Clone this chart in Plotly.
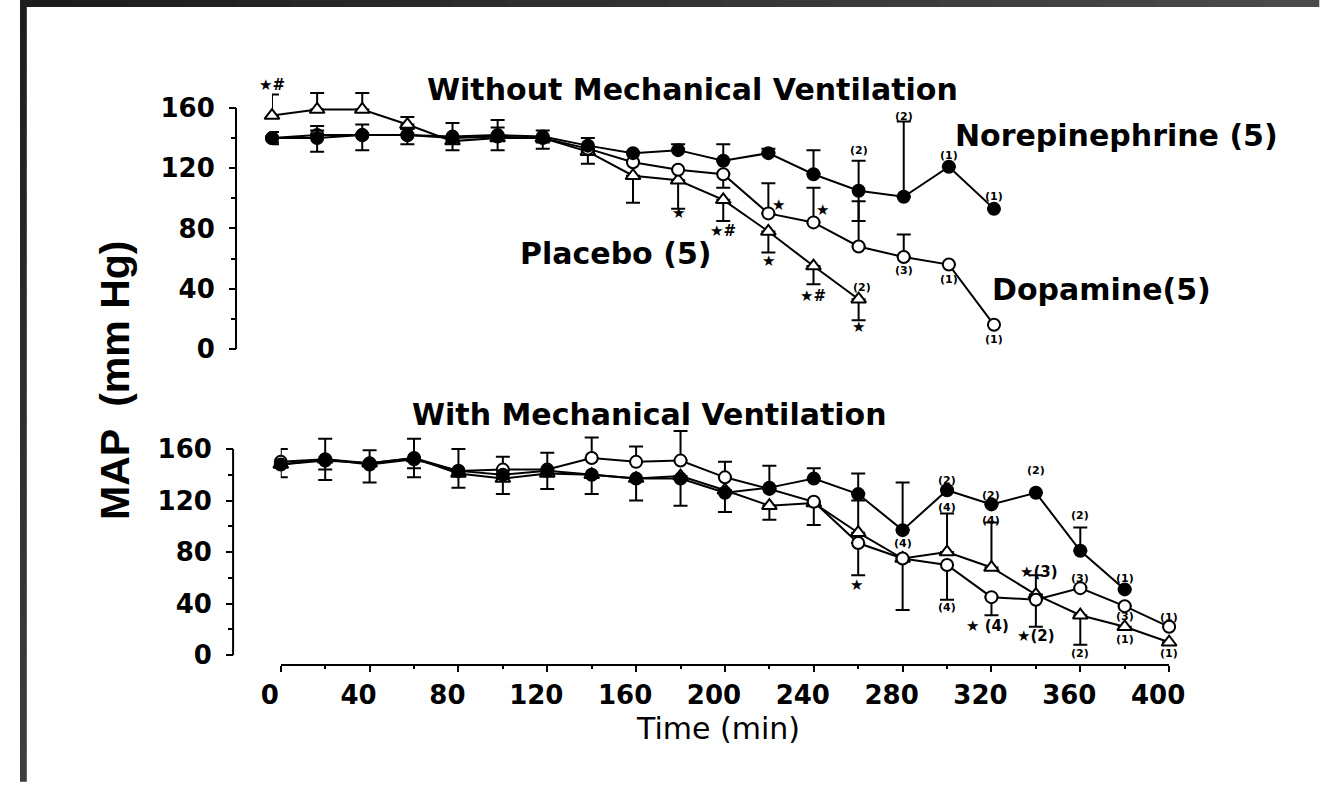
import plotly.graph_objects as go

# ---------------- data ----------------
t_top = [0, 20, 40, 60, 80, 100, 120, 140, 160, 180, 200, 220, 240, 260, 280, 300, 320]
ne_top = [140, 140, 142, 142, 141, 142, 141, 135, 130, 132, 125, 130, 116, 105, 101, 121, 93]
ne_top_plus = [4, 5, 7, 4, 9, 5, 4, 5, 0, 4, 11, 3, 16, 20, 50, 0, 0]
ne_top_minus = [4, 9, 10, 6, 4, 4, 4, 0, 0, 0, 0, 0, 0, 20, 0, 0, 0]

da_top = [140, 142, 142, 142, 140, 141, 140, 133, 124, 119, 116, 90, 84, 68, 61, 56, 16]
da_top_plus = [0, 6, 0, 4, 0, 11, 0, 0, 0, 0, 0, 20, 23, 30, 15, 0, 0]
da_top_minus = [3, 0, 0, 0, 0, 0, 0, 0, 0, 0, 9, 0, 0, 0, 0, 0, 0]

t_top_pl = [0, 20, 40, 60, 80, 100, 120, 140, 160, 180, 200, 220, 240, 260]
pl_top = [155, 159, 159, 149, 138, 140, 140, 131, 115, 112, 99, 78, 55, 33]
pl_top_plus = [14, 11, 11, 5, 0, 0, 0, 0, 0, 0, 0, 0, 0, 0]
pl_top_minus = [0, 0, 0, 0, 6, 8, 7, 8, 18, 19, 14, 14, 12, 14]

t_bot = [0, 20, 40, 60, 80, 100, 120, 140, 160, 180, 200, 220, 240, 260, 280, 300, 320, 340, 360, 380, 400]
t_bot_ne = t_bot[:-1]
ne_bot = [148, 151, 149, 153, 143, 140, 143, 140, 137, 137, 126, 130, 137, 125, 97, 128, 117, 126, 81, 51]
ne_bot_plus = [0, 0, 0, 0, 0, 0, 0, 0, 0, 0, 0, 17, 8, 16, 37, 0, 0, 0, 18, 0]
ne_bot_minus = [10, 15, 15, 15, 13, 0, 0, 0, 0, 0, 15, 0, 0, 0, 0, 0, 0, 0, 0, 0]

da_bot = [150, 152, 148, 152, 143, 144, 144, 153, 150, 151, 138, 129, 119, 87, 75, 70, 45, 43, 52, 38, 22]
da_bot_plus = [10, 16, 11, 16, 17, 10, 13, 16, 12, 23, 12, 0, 0, 0, 0, 0, 0, 0, 0, 0, 0]
da_bot_minus = [0, 0, 0, 0, 0, 0, 0, 0, 0, 0, 0, 0, 0, 25, 40, 27, 14, 21, 0, 0, 0]

pl_bot = [148, 152, 149, 153, 141, 137, 141, 140, 137, 139, 128, 116, 118, 95, 75, 80, 68, 47, 31, 22, 10]
pl_bot_plus = [0, 0, 0, 0, 0, 0, 0, 0, 0, 0, 0, 0, 0, 25, 0, 30, 35, 15, 0, 0, 0]
pl_bot_minus = [0, 8, 0, 8, 0, 12, 12, 15, 17, 23, 0, 11, 17, 0, 0, 0, 0, 0, 23, 0, 0]

y_ticks = [0, 40, 80, 120, 160]
y_minor = [20, 60, 100, 140]
x_ticks = [0, 40, 80, 120, 160, 200, 240, 280, 320, 360, 400]
x_minor = [20, 60, 100, 140, 180, 220, 260, 300, 340, 380]

group_names = {"ne": "Norepinephrine (5)", "da": "Dopamine(5)", "pl": "Placebo (5)"}
panel_titles = ["Without Mechanical Ventilation", "With Mechanical Ventilation"]
y_title = "MAP  (mm Hg)"
x_title = "Time (min)"

# annotations: (panel, series, time, text, xshift, yshift)
notes = [
    ("top", "pl", 0, "★#", 0, 31),
    ("top", "pl", 180, "★", 0, -33),
    ("top", "pl", 200, "★#", 0, -31),
    ("top", "da", 220, "★", 10, 8),
    ("top", "pl", 220, "★", 0, -30),
    ("top", "da", 240, "★", 9, 12),
    ("top", "pl", 240, "★#", 0, -30),
    ("top", "pl", 260, "(2)", 3, 12),
    ("top", "pl", 260, "★", 0, -28),
    ("top", "ne", 260, "(2)", 0, 40),
    ("top", "ne", 280, "(2)", 0, 80),
    ("top", "da", 280, "(3)", 0, -13),
    ("top", "ne", 300, "(1)", 0, 11),
    ("top", "da", 300, "(1)", 0, -15),
    ("top", "ne", 320, "(1)", 0, 12),
    ("top", "da", 320, "(1)", 0, -15),
    ("bot", "da", 260, "★", -2, -42),
    ("bot", "ne", 280, "(4)", 0, -13),
    ("bot", "ne", 300, "(2)", 0, 10),
    ("bot", "pl", 300, "(4)", 0, 45),
    ("bot", "da", 300, "(4)", 0, -43),
    ("bot", "ne", 320, "(2)", 0, 9),
    ("bot", "pl", 320, "(4)", 0, 47),
    ("bot", "da", 320, "★ (4)", -4, -29),
    ("bot", "ne", 340, "(2)", 0, 22),
    ("bot", "pl", 340, "★(3)", 3, 23),
    ("bot", "da", 340, "★(2)", 0, -36),
    ("bot", "ne", 360, "(2)", 0, 35),
    ("bot", "da", 360, "(3)", 0, 10),
    ("bot", "pl", 360, "(2)", 0, -38),
    ("bot", "ne", 380, "(1)", 0, 11),
    ("bot", "da", 380, "(3)", 0, -10),
    ("bot", "pl", 380, "(1)", 0, -13),
    ("bot", "da", 400, "(1)", 0, 9),
    ("bot", "pl", 400, "(1)", 0, -11),
]

# ---------------- layout geometry (pixels) ----------------
W, H = 1334, 788


def px(x):
    return x / W


def py(y):
    return 1 - y / H


BOLD = "DejaVu Sans"

fig = go.Figure()


def add_series(x, y, plus, minus, symbol, fill, xa, ya, size):
    fig.add_trace(go.Scatter(
        x=x, y=y, mode="lines+markers", xaxis=xa, yaxis=ya,
        line=dict(color="black", width=2),
        marker=dict(symbol=symbol, size=size, color=fill,
                    line=dict(color="black", width=2)),
        error_y=dict(type="data", symmetric=False, array=plus, arrayminus=minus,
                     color="black", thickness=2, width=7),
        cliponaxis=False, showlegend=False, hoverinfo="x+y"))


# top panel
add_series(t_top_pl, pl_top, pl_top_plus, pl_top_minus, "triangle-up", "white", "x2", "y2", 13)
add_series(t_top, da_top, da_top_plus, da_top_minus, "circle", "white", "x2", "y2", 12)
add_series(t_top, ne_top, ne_top_plus, ne_top_minus, "circle", "black", "x2", "y2", 12)
# bottom panel
add_series(t_bot, pl_bot, pl_bot_plus, pl_bot_minus, "triangle-up", "white", "x", "y", 13)
add_series(t_bot, da_bot, da_bot_plus, da_bot_minus, "circle", "white", "x", "y", 12)
add_series(t_bot_ne, ne_bot, ne_bot_plus, ne_bot_minus, "circle", "black", "x", "y", 12)

tickfont = dict(family=BOLD, size=26, color="black", weight="bold")

# bottom y: 0 at 661 px, 1.3 px per unit; x axis line at 670
ybot_scale = 1.3
ybot_zero = 661
ybot_dom = (670, 400)
# top y: 0 at 352 px, 1.519 px per unit
ytop_scale = 1.519
ytop_zero = 352
ytop_dom = (360, 60)

common_y = dict(showline=False, showgrid=False, zeroline=False, ticks="outside",
                ticklen=7, tickwidth=2, tickcolor="black", tickmode="array",
                tickvals=y_ticks, tickfont=tickfont, ticklabelstandoff=9,
                minor=dict(tickmode="array", tickvals=y_minor, ticks="outside",
                           ticklen=5, tickwidth=1.5, tickcolor="black"))

fig.update_layout(
    width=W, height=H, autosize=False,
    margin=dict(l=0, r=0, t=0, b=0, pad=0),
    paper_bgcolor="white", plot_bgcolor="rgba(0,0,0,0)",
    xaxis=dict(domain=[px(268), px(1181)], range=[0, 400], anchor="y",
               showline=True, linecolor="black", linewidth=2, showgrid=False,
               zeroline=False, ticks="outside", ticklen=6, tickwidth=2,
               tickcolor="black", tickmode="array", tickvals=x_ticks,
               tickfont=tickfont, ticklabelshift=-11, ticklabelstandoff=1,
               minor=dict(tickmode="array", tickvals=x_minor, ticks="outside",
                          ticklen=3, tickwidth=1.5, tickcolor="black")),
    yaxis=dict(domain=[py(ybot_dom[0]), py(ybot_dom[1])],
               range=[(ybot_zero - ybot_dom[0]) / ybot_scale, (ybot_zero - ybot_dom[1]) / ybot_scale],
               anchor="free", position=px(219), **common_y),
    xaxis2=dict(domain=[px(259), px(1001)], range=[0, 320], anchor="y2", visible=False),
    yaxis2=dict(domain=[py(ytop_dom[0]), py(ytop_dom[1])],
                range=[(ytop_zero - ytop_dom[0]) / ytop_scale, (ytop_zero - ytop_dom[1]) / ytop_scale],
                anchor="free", position=px(222), **common_y),
)

shapes = []
# y axis lines from 0 to 160 only
shapes.append(dict(type="line", xref="paper", yref="y", x0=px(219), x1=px(219),
                   y0=y_ticks[0], y1=y_ticks[-1], line=dict(color="black", width=2)))
shapes.append(dict(type="line", xref="paper", yref="y2", x0=px(222), x1=px(222),
                   y0=y_ticks[0], y1=y_ticks[-1], line=dict(color="black", width=2)))
# dark scan border (gradient) top and left
N = 24
for i in range(N):
    c = int(28 + (75 - 28) * i / (N - 1))
    shapes.append(dict(type="rect", xref="paper", yref="paper",
                       x0=i / N, x1=(i + 1) / N + 0.001, y0=py(7), y1=1,
                       fillcolor=f"rgb({c},{c},{c})", line=dict(width=0), layer="above"))
for i in range(N):
    c = int(30 + (62 - 30) * i / (N - 1))
    shapes.append(dict(type="rect", xref="paper", yref="paper",
                       x0=0, x1=px(7), y0=1 - (i + 1) / N - 0.001, y1=1 - i / N,
                       fillcolor=f"rgb({c},{c},{c})", line=dict(width=0), layer="above"))
fig.update_layout(shapes=shapes)

ann = []
big = dict(family=BOLD, size=30, color="black", weight="bold")
ann.append(dict(text=panel_titles[0], x=px(691), y=py(90), xref="paper", yref="paper",
                showarrow=False, font=big, xanchor="center", yanchor="middle"))
ann.append(dict(text=panel_titles[1], x=px(647), y=py(418), xref="paper", yref="paper",
                showarrow=False, font=big, xanchor="center", yanchor="middle"))
ann.append(dict(text=group_names["ne"], x=px(1127), y=py(137), xref="paper", yref="paper",
                showarrow=False, font=big, xanchor="center", yanchor="middle"))
ann.append(dict(text=group_names["da"], x=px(1112), y=py(292), xref="paper", yref="paper",
                showarrow=False, font=big, xanchor="center", yanchor="middle"))
ann.append(dict(text=group_names["pl"], x=px(612), y=py(256), xref="paper", yref="paper",
                showarrow=False, font=big, xanchor="center", yanchor="middle"))
ann.append(dict(text=y_title, x=px(97), y=py(384), xref="paper", yref="paper", textangle=-90,
                showarrow=False, xanchor="center", yanchor="middle",
                font=dict(family="Liberation Sans, Arial", size=41,
                          color="black", weight="bold")))
ann.append(dict(text=x_title, x=px(717), y=py(735), xref="paper", yref="paper",
                showarrow=False, xanchor="center", yanchor="middle",
                font=dict(family="DejaVu Sans", size=30, color="black")))

series = {
    "top": {"ne": (t_top, ne_top), "da": (t_top, da_top), "pl": (t_top_pl, pl_top)},
    "bot": {"ne": (t_bot_ne, ne_bot), "da": (t_bot, da_bot), "pl": (t_bot, pl_bot)},
}
for panel, key, t, text, dx, dy in notes:
    ts, vs = series[panel][key]
    v = vs[ts.index(t)]
    star = "★" in text
    ann.append(dict(text=text, x=t, y=v,
                    xref="x2" if panel == "top" else "x",
                    yref="y2" if panel == "top" else "y",
                    xshift=dx, yshift=dy, showarrow=False,
                    xanchor="center", yanchor="middle",
                    font=dict(family=BOLD, size=15 if star else 11, color="black",
                              weight="bold")))
fig.update_layout(annotations=ann)

fig.write_html("out.html")
